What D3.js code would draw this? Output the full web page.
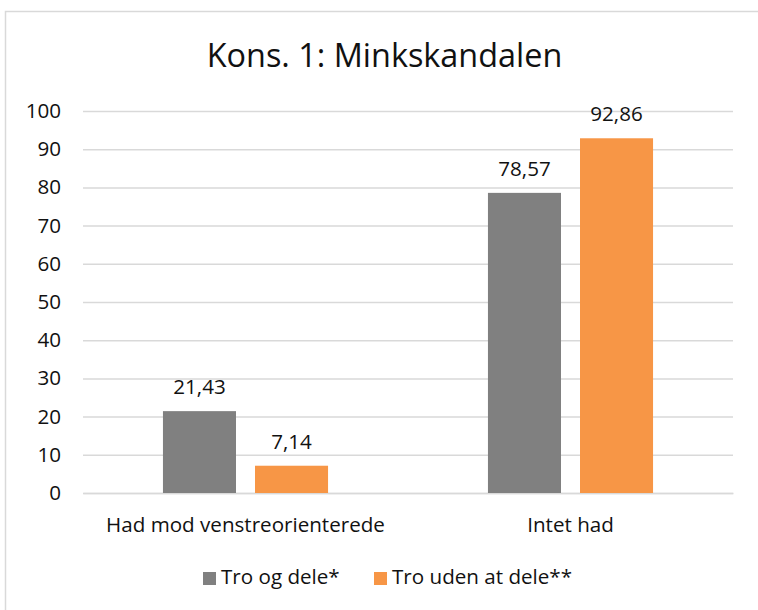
<!DOCTYPE html>
<html>
<head>
<meta charset="utf-8">
<script src="https://cdn.jsdelivr.net/npm/d3@7"></script>
<style>
  html, body { margin: 0; padding: 0; background: #fff; }
  svg { display: block; font-family: 'Open Sans', sans-serif; }
</style>
</head>
<body>
<div id="chart"></div>
<script>
// Kons. 1: Minkskandalen - grouped bar chart

const title = 'Kons. 1: Minkskandalen';
const categories = ['Had mod venstreorienterede', 'Intet had'];
const seriesNames = ['Tro og dele*', 'Tro uden at dele**'];
const seriesColors = ['#808080', '#f79646'];
const troOgDele = [21.43, 78.57];
const troUdenAtDele = [7.14, 92.86];
const yTicks = [0, 10, 20, 30, 40, 50, 60, 70, 80, 90, 100];

const seriesValues = [troOgDele, troUdenAtDele];
const rows = categories.map((c, i) => ({
    category: c,
    values: seriesNames.map((s, j) => ({ series: s, value: seriesValues[j][i], color: seriesColors[j] }))
}));

const width = 758, height = 610;
const plot = { left: 83, right: 733, top: 111, bottom: 493 };
const fontSize = '20.6px';
const fmt = v => v.toFixed(2).replace('.', ',');

const svg = d3.select('#chart').append('svg').attr('width', width).attr('height', height);

// chart frame (cut off at right and bottom like the source)
svg.append('rect')
    .attr('x', 5.5).attr('y', 11.5)
    .attr('width', width + 10).attr('height', height + 10)
    .attr('fill', '#fff').attr('stroke', '#d9d9d9').attr('stroke-width', 1.5);

svg.append('text')
    .attr('x', 384.5).attr('y', 67)
    .attr('text-anchor', 'middle')
    .style('font-size', '32.4px').style('fill', '#111')
    .text(title);

const y = d3.scaleLinear().domain([0, 100]).range([plot.bottom, plot.top]);
const x0 = d3.scaleBand().domain(categories).range([plot.left, plot.right]).paddingInner(0.492).paddingOuter(0.246);
const x1 = d3.scaleBand().domain(seriesNames).range([0, x0.bandwidth()]).paddingInner(0.2065);

const yAxis = d3.axisLeft(y).tickValues(yTicks).tickSize(-(plot.right - plot.left)).tickPadding(22);
const yAxisG = svg.append('g').attr('transform', `translate(${plot.left},0)`).call(yAxis);
yAxisG.select('.domain').remove();
yAxisG.selectAll('.tick line').attr('stroke', '#d9d9d9').attr('stroke-width', 1.5);
yAxisG.selectAll('.tick text').style('font-size', fontSize).style('fill', '#111').style('font-family', "'Open Sans', sans-serif");

const xAxis = d3.axisBottom(x0).tickSize(0);
const xAxisG = svg.append('g').attr('transform', `translate(0,${plot.bottom})`).call(xAxis);
xAxisG.select('.domain').attr('stroke', '#d9d9d9').attr('stroke-width', 1.5);
xAxisG.selectAll('.tick text').attr('y', 39).attr('dy', 0)
    .style('font-size', fontSize).style('fill', '#111').style('font-family', "'Open Sans', sans-serif");

const groups = svg.selectAll('g.group')
    .data(rows)
    .enter()
    .append('g')
    .attr('class', 'group')
    .attr('transform', d => `translate(${x0(d.category)},0)`);

groups.selectAll('rect')
    .data(d => d.values)
    .enter()
    .append('rect')
    .attr('x', d => x1(d.series))
    .attr('y', d => y(d.value))
    .attr('width', x1.bandwidth())
    .attr('height', d => y(0) - y(d.value))
    .attr('fill', d => d.color);

groups.selectAll('text.label')
    .data(d => d.values)
    .enter()
    .append('text')
    .attr('class', 'label')
    .attr('x', d => x1(d.series) + x1.bandwidth() / 2)
    .attr('y', d => y(d.value) - 17)
    .attr('text-anchor', 'middle')
    .style('font-size', fontSize).style('fill', '#111')
    .text(d => fmt(d.value));

// legend
const legend = svg.append('g').attr('transform', 'translate(203,584)');
const legendX = [0, 171];
seriesNames.forEach((s, i) => {
    const g = legend.append('g').attr('transform', `translate(${legendX[i]},0)`);
    g.append('rect').attr('x', 0).attr('y', -12).attr('width', 13).attr('height', 13).attr('fill', seriesColors[i]);
    g.append('text').attr('x', 18).attr('y', 0).style('font-size', fontSize).style('fill', '#111').text(s);
});
</script>
</body>
</html>
